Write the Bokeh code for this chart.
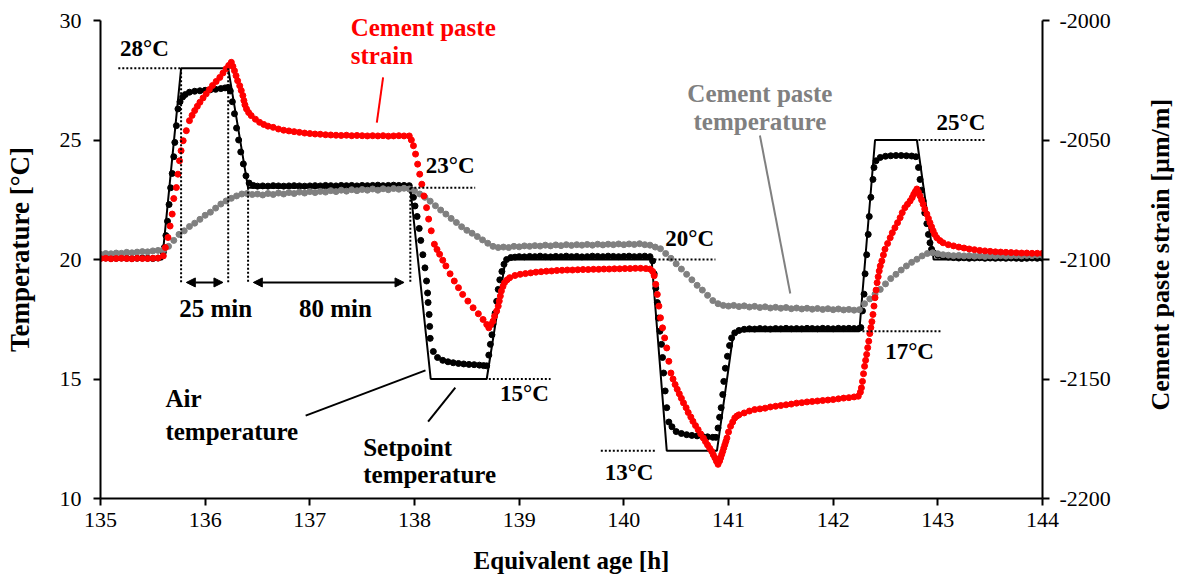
import math
from bokeh.plotting import figure
from bokeh.layouts import row
from bokeh.models import (Range1d, LinearAxis, FixedTicker, Label, Arrow, NormalHead,
                          PrintfTickFormatter)
from bokeh.embed import file_html
from bokeh.resources import INLINE

# ---------------- data ----------------
x_ticks = [135, 136, 137, 138, 139, 140, 141, 142, 143, 144]
temp_ticks = [10, 15, 20, 25, 30]
strain_ticks = [-2200, -2150, -2100, -2050, -2000]

# setpoint temperature [°C]
sp_time = [135.0, 135.59, 135.77, 136.22, 136.41, 137.96, 138.155, 138.69, 138.87,
           140.265, 140.41, 140.89, 141.05, 142.25, 142.40, 142.80, 142.96, 144.0]
sp_temp = [20, 20, 28, 28, 23, 23, 15, 15, 20,
           20, 12, 12, 17, 17, 25, 25, 20, 20]

# air temperature [°C]
air_time = [
    135.00, 135.05, 135.10, 135.15, 135.20, 135.25, 135.30, 135.35, 135.40, 135.45, 135.50, 135.55,
    135.60, 135.61, 135.625, 135.64, 135.655, 135.67, 135.685, 135.70, 135.71, 135.725, 135.74, 135.76, 135.785, 135.81,
    135.85, 135.90, 135.95, 136.00, 136.05, 136.10, 136.15, 136.19, 136.22,
    136.24, 136.26, 136.28, 136.30, 136.32, 136.34, 136.365, 136.39, 136.42, 136.46,
    136.50, 136.55, 136.60, 136.65, 136.70, 136.75, 136.80, 136.85, 136.90, 136.95,
    137.00, 137.05, 137.10, 137.15, 137.20, 137.25, 137.30, 137.35, 137.40, 137.45,
    137.50, 137.55, 137.60, 137.65, 137.70, 137.75, 137.80, 137.85, 137.90, 137.95,
    137.97, 137.99, 138.005, 138.025, 138.045, 138.06, 138.08, 138.10, 138.115, 138.125, 138.13, 138.14, 138.145, 138.15,
    138.18, 138.22, 138.27, 138.32, 138.37, 138.42, 138.47, 138.52, 138.57, 138.62, 138.66, 138.69,
    138.71, 138.725, 138.74, 138.75, 138.77, 138.785, 138.80, 138.815, 138.835, 138.855, 138.88, 138.92, 138.96,
    139.00, 139.05, 139.10, 139.15, 139.20, 139.25, 139.30, 139.35, 139.40, 139.45,
    139.50, 139.55, 139.60, 139.65, 139.70, 139.75, 139.80, 139.85, 139.90, 139.95,
    140.00, 140.05, 140.10, 140.15, 140.20, 140.25,
    140.275, 140.29, 140.305, 140.32, 140.33, 140.345, 140.36, 140.37, 140.38, 140.395, 140.41, 140.43,
    140.46, 140.50, 140.55, 140.60, 140.65, 140.70, 140.75, 140.80, 140.85, 140.88,
    140.90, 140.915, 140.93, 140.945, 140.955, 140.97, 140.99, 141.01, 141.03, 141.06, 141.10,
    141.15, 141.20, 141.25, 141.30, 141.35, 141.40, 141.45, 141.50, 141.55, 141.60,
    141.65, 141.70, 141.75, 141.80, 141.85, 141.90, 141.95, 142.00, 142.05, 142.10,
    142.15, 142.20, 142.25,
    142.265, 142.28, 142.295, 142.305, 142.32, 142.335, 142.345, 142.36, 142.38, 142.39, 142.41,
    142.45, 142.50, 142.55, 142.60, 142.65, 142.70, 142.75, 142.79,
    142.815, 142.83, 142.845, 142.86, 142.875, 142.895, 142.91, 142.925, 142.94, 142.96, 143.00, 143.05, 143.10,
    143.15, 143.20, 143.25, 143.30, 143.35, 143.40, 143.45, 143.50, 143.55, 143.60,
    143.65, 143.70, 143.75, 143.80, 143.85, 143.90, 143.95, 144.00,
]
air_temp = [
    20.05, 20.06, 20.04, 20.05, 20.06, 20.05, 20.04, 20.05, 20.06, 20.05, 20.04, 20.06,
    20.3, 20.5, 21.0, 21.6, 22.3, 23.0, 23.6, 24.3, 24.9, 25.6, 26.3, 26.6, 26.8, 26.9,
    27.0, 27.04, 27.06, 27.08, 27.1, 27.12, 27.15, 27.18, 27.2,
    27.05, 26.6, 26.1, 25.5, 25.0, 24.5, 24.0, 23.5, 23.2, 23.1,
    23.07, 23.08, 23.07, 23.09, 23.08, 23.07, 23.08, 23.09, 23.08, 23.07,
    23.08, 23.09, 23.08, 23.10, 23.09, 23.08, 23.10, 23.09, 23.10, 23.08,
    23.10, 23.09, 23.10, 23.11, 23.09, 23.10, 23.11, 23.10, 23.10, 23.09,
    22.9, 22.6, 22.24, 21.8, 21.3, 20.8, 20.2, 19.65, 19.1, 18.6, 18.2, 17.7, 17.2, 16.7,
    16.15, 15.9, 15.78, 15.72, 15.68, 15.65, 15.63, 15.61, 15.6, 15.58, 15.56, 15.55,
    16.0, 16.45, 16.85, 17.3, 17.75, 18.25, 18.75, 19.15, 19.5, 19.8, 20.0, 20.08, 20.1,
    20.12, 20.11, 20.13, 20.12, 20.14, 20.12, 20.11, 20.13, 20.12, 20.14,
    20.12, 20.13, 20.11, 20.12, 20.14, 20.13, 20.12, 20.14, 20.13, 20.12,
    20.13, 20.14, 20.12, 20.13, 20.14, 20.12,
    19.94, 19.4, 18.8, 18.2, 17.55, 17.0, 16.45, 15.9, 15.25, 14.5, 13.8, 13.2,
    13.0, 12.8, 12.72, 12.67, 12.64, 12.62, 12.6, 12.58, 12.56, 12.56,
    12.95, 13.4, 13.8, 14.35, 14.9, 15.45, 15.95, 16.4, 16.72, 16.93, 17.03,
    17.08, 17.10, 17.09, 17.11, 17.10, 17.09, 17.11, 17.10, 17.12, 17.10,
    17.11, 17.10, 17.12, 17.11, 17.10, 17.12, 17.11, 17.10, 17.12, 17.11,
    17.12, 17.11, 17.12,
    17.15, 17.85, 18.55, 19.4, 20.2, 21.05, 21.8, 22.6, 23.35, 23.85, 24.13,
    24.27, 24.32, 24.34, 24.35, 24.35, 24.34, 24.33, 24.3,
    23.85, 23.35, 22.9, 22.45, 21.95, 21.5, 21.05, 20.7, 20.43, 20.28, 20.18, 20.13, 20.1,
    20.08, 20.06, 20.07, 20.05, 20.06, 20.07, 20.05, 20.06, 20.05, 20.06,
    20.05, 20.06, 20.05, 20.04, 20.05, 20.06, 20.05, 20.05,
]

# cement paste temperature [°C]
paste_time = [
    135.00, 135.05, 135.10, 135.15, 135.20, 135.25, 135.30, 135.35, 135.40, 135.45,
    135.50, 135.55, 135.60, 135.65, 135.70, 135.75, 135.80, 135.85, 135.90, 135.95,
    136.00, 136.05, 136.10, 136.15, 136.20, 136.25, 136.30, 136.35, 136.40, 136.45,
    136.50, 136.55, 136.60, 136.65, 136.70, 136.75, 136.80, 136.85, 136.90, 136.95,
    137.00, 137.05, 137.10, 137.15, 137.20, 137.25, 137.30, 137.35, 137.40, 137.45,
    137.50, 137.55, 137.60, 137.65, 137.70, 137.75, 137.80, 137.85, 137.90, 137.95,
    138.00, 138.05, 138.10, 138.15, 138.20, 138.25, 138.30, 138.35, 138.40, 138.45,
    138.50, 138.55, 138.60, 138.65, 138.70, 138.75, 138.80, 138.85, 138.90, 138.95,
    139.00, 139.05, 139.10, 139.15, 139.20, 139.25, 139.30, 139.35, 139.40, 139.45,
    139.50, 139.55, 139.60, 139.65, 139.70, 139.75, 139.80, 139.85, 139.90, 139.95,
    140.00, 140.05, 140.10, 140.15, 140.20, 140.25, 140.30, 140.35, 140.40, 140.45,
    140.50, 140.55, 140.60, 140.65, 140.70, 140.75, 140.80, 140.85, 140.90, 140.95,
    141.00, 141.05, 141.10, 141.15, 141.20, 141.25, 141.30, 141.35, 141.40, 141.45,
    141.50, 141.55, 141.60, 141.65, 141.70, 141.75, 141.80, 141.85, 141.90, 141.95,
    142.00, 142.05, 142.10, 142.15, 142.20, 142.25, 142.30, 142.35, 142.40, 142.45,
    142.50, 142.55, 142.60, 142.65, 142.70, 142.75, 142.80, 142.85, 142.90, 142.95,
    143.00, 143.05, 143.10, 143.15, 143.20, 143.25, 143.30, 143.35, 143.40, 143.45,
    143.50, 143.55, 143.60, 143.65, 143.70, 143.75, 143.80, 143.85, 143.90, 143.95,
    144.00,
]
paste_temp = [
    20.22, 20.25, 20.24, 20.27, 20.26, 20.30, 20.28, 20.31, 20.33, 20.32,
    20.36, 20.38, 20.40, 20.55, 20.80, 21.05, 21.20, 21.38, 21.52, 21.68,
    21.85, 21.98, 22.15, 22.32, 22.45, 22.56, 22.66, 22.74, 22.76, 22.72,
    22.74, 22.70, 22.76, 22.72, 22.78, 22.74, 22.80, 22.76, 22.82, 22.78,
    22.84, 22.80, 22.85, 22.82, 22.88, 22.84, 22.90, 22.86, 22.92, 22.88,
    22.93, 22.90, 22.95, 22.90, 22.96, 22.92, 22.97, 22.94, 22.98, 22.95,
    22.88, 22.74, 22.60, 22.44, 22.25, 22.07, 21.90, 21.72, 21.55, 21.37,
    21.22, 21.10, 20.96, 20.82, 20.68, 20.55, 20.50, 20.52, 20.50, 20.55,
    20.53, 20.57, 20.55, 20.58, 20.56, 20.60, 20.57, 20.61, 20.58, 20.62,
    20.59, 20.62, 20.60, 20.63, 20.60, 20.64, 20.61, 20.64, 20.62, 20.65,
    20.62, 20.65, 20.63, 20.66, 20.62, 20.60, 20.52, 20.45, 20.25, 20.05,
    19.82, 19.60, 19.38, 19.15, 18.92, 18.72, 18.50, 18.28, 18.15, 18.08,
    18.05, 18.08, 18.03, 18.06, 18.01, 18.04, 17.99, 18.02, 17.97, 18.00,
    17.96, 17.99, 17.94, 17.97, 17.93, 17.96, 17.92, 17.95, 17.91, 17.94,
    17.90, 17.93, 17.89, 17.91, 17.88, 17.90, 18.15, 18.35, 18.55, 18.75,
    18.98, 19.20, 19.38, 19.56, 19.73, 19.88, 20.01, 20.15, 20.25, 20.28,
    20.24, 20.20, 20.18, 20.16, 20.17, 20.15, 20.16, 20.14, 20.15, 20.13,
    20.15, 20.14, 20.16, 20.14, 20.15, 20.16, 20.15, 20.17, 20.16, 20.18,
    20.17,
]

# cement paste strain [µm/m]
strain_time = [
    135.00, 135.05, 135.10, 135.15, 135.20, 135.25, 135.30, 135.35, 135.40, 135.45, 135.50, 135.55,
    135.60, 135.62, 135.645, 135.665, 135.685, 135.70, 135.725, 135.74, 135.755, 135.77,
    135.79, 135.82, 135.85, 135.875, 135.90, 135.925, 135.95, 135.98, 136.01, 136.04,
    136.07, 136.105, 136.14, 136.17, 136.20, 136.225, 136.25, 136.265, 136.28, 136.295,
    136.31, 136.33, 136.345, 136.36, 136.37, 136.38, 136.395, 136.415, 136.44, 136.48,
    136.52, 136.56, 136.60, 136.65, 136.70, 136.75, 136.80, 136.85, 136.90, 136.95,
    137.00, 137.05, 137.10, 137.15, 137.20, 137.25, 137.30, 137.35, 137.40, 137.45,
    137.50, 137.55, 137.60, 137.65, 137.70, 137.75, 137.80, 137.85, 137.90, 137.95,
    137.97, 137.99, 138.01, 138.03, 138.05, 138.07, 138.09, 138.115, 138.135, 138.16,
    138.19, 138.215, 138.24, 138.27, 138.30, 138.34, 138.38, 138.42, 138.46, 138.51,
    138.56, 138.61, 138.655, 138.69, 138.71, 138.73, 138.75, 138.765, 138.785, 138.80,
    138.81, 138.82, 138.83, 138.845, 138.86, 138.885, 138.91, 138.96, 139.01, 139.06,
    139.11, 139.16, 139.21, 139.26, 139.31, 139.36, 139.41, 139.46, 139.51, 139.56,
    139.61, 139.66, 139.71, 139.76, 139.81, 139.86, 139.91, 139.96, 140.01, 140.06,
    140.11, 140.16, 140.21, 140.25, 140.275, 140.29, 140.305, 140.32, 140.335, 140.35,
    140.37, 140.39, 140.41, 140.43, 140.45, 140.47, 140.49, 140.51, 140.53, 140.55,
    140.57, 140.595, 140.615, 140.64, 140.66, 140.685, 140.71, 140.735, 140.76, 140.78,
    140.80, 140.82, 140.84, 140.855, 140.87, 140.885, 140.90, 140.915, 140.925, 140.935,
    140.945, 140.955, 140.965, 140.975, 140.985, 141.00, 141.02, 141.04, 141.06, 141.08,
    141.10, 141.15, 141.20, 141.25, 141.30, 141.35, 141.40, 141.45, 141.50, 141.55,
    141.60, 141.65, 141.70, 141.75, 141.80, 141.85, 141.90, 141.95, 142.00, 142.05,
    142.10, 142.15, 142.20, 142.24, 142.26, 142.27, 142.28, 142.29, 142.30, 142.31,
    142.32, 142.33, 142.34, 142.35, 142.36, 142.37, 142.38, 142.39, 142.40, 142.41,
    142.42, 142.43, 142.44, 142.45, 142.465, 142.48, 142.495, 142.52, 142.545, 142.565,
    142.59, 142.615, 142.64, 142.66, 142.685, 142.71, 142.735, 142.755, 142.77, 142.785,
    142.80, 142.815, 142.83, 142.845, 142.86, 142.875, 142.895, 142.91, 142.925, 142.94,
    142.955, 142.97, 142.99, 143.02, 143.05, 143.10, 143.15, 143.20, 143.25, 143.30,
    143.35, 143.40, 143.45, 143.50, 143.55, 143.60, 143.65, 143.70, 143.75, 143.80,
    143.85, 143.90, 143.95, 144.00,
]
strain_val = [
    -2099.6, -2099.5, -2099.7, -2099.6, -2099.5, -2099.6, -2099.7, -2099.5, -2099.6, -2099.6, -2099.5, -2099.4,
    -2098.5, -2095.0, -2090.8, -2086.0, -2081.0, -2074.5, -2069.9, -2064.3, -2058.7, -2054.5,
    -2050.3, -2046.1, -2041.9, -2039.7, -2037.7, -2035.9, -2034.2, -2032.4, -2030.7, -2028.9,
    -2027.2, -2025.5, -2023.8, -2022.0, -2020.2, -2018.8, -2017.5, -2019.2, -2021.0, -2023.1,
    -2025.2, -2027.3, -2029.3, -2031.4, -2033.5, -2035.3, -2037.0, -2038.5, -2039.8, -2041.3,
    -2042.6, -2043.5, -2044.2, -2044.7, -2045.4, -2045.9, -2046.2, -2046.5, -2046.8, -2047.1,
    -2047.3, -2047.5, -2047.6, -2047.8, -2047.9, -2048.0, -2048.1, -2048.0, -2048.2, -2048.1,
    -2048.2, -2048.3, -2048.2, -2048.3, -2048.2, -2048.4, -2048.3, -2048.2, -2048.3, -2048.3,
    -2050.0, -2052.4, -2055.9, -2060.1, -2064.3, -2068.5, -2073.4, -2078.3, -2083.1, -2088.0,
    -2093.6, -2095.8, -2097.8, -2100.3, -2102.7, -2106.0, -2109.0, -2111.8, -2114.6, -2117.4,
    -2120.2, -2122.7, -2125.1, -2127.2, -2128.6, -2127.2, -2125.8, -2123.7, -2121.6, -2119.5,
    -2117.4, -2115.3, -2113.2, -2111.3, -2109.7, -2108.5, -2107.6, -2106.7, -2106.2, -2105.9,
    -2105.6, -2105.3, -2105.1, -2104.9, -2104.8, -2104.6, -2104.5, -2104.4, -2104.4, -2104.3,
    -2104.2, -2104.2, -2104.1, -2104.1, -2104.0, -2104.0, -2103.9, -2103.9, -2103.8, -2103.8,
    -2103.7, -2103.7, -2103.8, -2104.0, -2105.0, -2106.8, -2110.4, -2114.6, -2119.5, -2124.4,
    -2128.6, -2132.8, -2137.0, -2142.6, -2147.5, -2150.0, -2152.3, -2154.3, -2156.2, -2158.1,
    -2160.0, -2162.0, -2164.0, -2165.9, -2167.7, -2169.5, -2171.2, -2173.0, -2174.7, -2176.2,
    -2177.6, -2179.0, -2180.3, -2181.7, -2183.0, -2184.4, -2185.7, -2184.3, -2183.0, -2181.6,
    -2180.3, -2178.9, -2177.5, -2176.1, -2174.7, -2172.2, -2169.8, -2168.0, -2166.3, -2165.5,
    -2165.0, -2164.2, -2163.4, -2162.8, -2162.5, -2162.2, -2161.7, -2161.4, -2161.1, -2160.8,
    -2160.5, -2160.1, -2159.9, -2159.6, -2159.4, -2159.2, -2159.0, -2158.8, -2158.6, -2158.3,
    -2158.0, -2157.8, -2157.5, -2157.2, -2155.5, -2153.7, -2151.0, -2147.8, -2144.7, -2142.2,
    -2139.7, -2136.9, -2134.2, -2131.0, -2128.5, -2126.0, -2123.0, -2119.5, -2116.0, -2112.8,
    -2109.7, -2107.2, -2104.8, -2102.7, -2100.6, -2098.1, -2095.7, -2093.3, -2090.9, -2088.8,
    -2086.7, -2084.6, -2082.5, -2080.4, -2078.3, -2076.9, -2075.5, -2074.1, -2072.7, -2071.6,
    -2070.5, -2071.9, -2073.4, -2075.1, -2076.9, -2078.9, -2081.0, -2082.8, -2084.6, -2086.3,
    -2088.0, -2089.5, -2090.9, -2092.1, -2093.0, -2093.8, -2094.3, -2094.8, -2095.2, -2095.6,
    -2095.9, -2096.2, -2096.4, -2096.6, -2096.8, -2096.9, -2097.0, -2097.1, -2097.2, -2097.3,
    -2097.3, -2097.4, -2097.4, -2097.4,
]

for a, b, n in [(air_time, air_temp, "air"), (paste_time, paste_temp, "paste"),
                (strain_time, strain_val, "strain")]:
    if len(a) != len(b):
        raise ValueError(f"{n}: {len(a)} vs {len(b)}")

# ---------------- figure ----------------
SERIF = "Liberation Serif"
W, H = 1117, 584
FRAME_L, FRAME_R, FRAME_B = 100, 1042, 498
PX_PER_DEG = (498 - 20) / 20.0          # 30 °C sits 20 px below the top edge
T_TOP = 10 + FRAME_B / PX_PER_DEG       # frame reaches the top so that labels are not clipped
S_TOP = -2100 + (T_TOP - 20) * 10       # strain axis shares the same scale

p = figure(width=W, height=H,
           x_range=Range1d(135, 144), y_range=Range1d(10, T_TOP),
           output_backend="svg", toolbar_location=None,
           min_border_left=FRAME_L, min_border_right=W - FRAME_R,
           min_border_top=0, min_border_bottom=H - FRAME_B,
           x_axis_label="Equivalent age [h]", y_axis_label="Temperature [°C]")
p.extra_y_ranges = {"strain": Range1d(-2200, S_TOP)}
p.xaxis.ticker = FixedTicker(ticks=x_ticks)
p.yaxis.ticker = FixedTicker(ticks=temp_ticks)
p.yaxis.bounds = (10, 30)
ax_r = LinearAxis(y_range_name="strain", ticker=FixedTicker(ticks=strain_ticks),
                  formatter=PrintfTickFormatter(format="%d"), bounds=(-2200, -2000))
p.add_layout(ax_r, "right")

p.grid.visible = False
p.outline_line_color = None
p.background_fill_color = "white"
p.border_fill_color = "white"

for ax in p.axis:
    ax.axis_line_width = 2
    ax.axis_line_color = "black"
    ax.major_tick_line_width = 2
    ax.major_tick_line_color = "black"
    ax.major_tick_out = 7
    ax.major_tick_in = 0
    ax.minor_tick_out = 0
    ax.minor_tick_in = 0
    ax.major_label_text_font = SERIF
    ax.major_label_text_font_size = "22px"
    ax.major_label_text_color = "black"
    ax.axis_label_text_font = SERIF
    ax.axis_label_text_font_style = "bold"
    ax.axis_label_text_color = "black"

p.xaxis.axis_label_text_font_size = "25px"
p.xaxis.major_label_standoff = 7
p.xaxis.axis_label_standoff = 17
p.yaxis[0].axis_label_text_font_size = "27px"
p.yaxis[0].major_label_standoff = 12
p.yaxis[0].axis_label_standoff = 22
ax_r.major_label_standoff = 10

# series
p.line(sp_time, sp_temp, line_color="black", line_width=2)
p.scatter(air_time, air_temp, size=6, color="black")
p.scatter(paste_time, paste_temp, size=6, color="#808080")
p.scatter(strain_time, strain_val, size=6, color="#ff0000", y_range_name="strain")

# dotted reference lines for setpoint levels
p.segment(x0=[135.17, 137.96, 142.815, 140.255, 142.28, 138.71, 139.78],
          x1=[135.765, 138.58, 143.455, 140.875, 143.025, 139.30, 140.30],
          y0=[28, 23, 25, 20, 17, 15, 12], y1=[28, 23, 25, 20, 17, 15, 12],
          line_color="black", line_width=2, line_dash="2 2")
# dotted vertical marks for hold durations
p.segment(x0=[135.77, 136.22, 136.41, 137.96], x1=[135.77, 136.22, 136.41, 137.96],
          y0=[28, 28, 23, 23], y1=[19.0, 19.0, 19.0, 19.0],
          line_color="black", line_width=2, line_dash="2 2")

# leader lines
p.segment(x0=[136.96, 138.13], y0=[13.47, 13.22], x1=[138.105, 138.39], y1=[15.36, 14.64],
          line_color="black", line_width=2)
p.segment(x0=[137.70], y0=[27.62], x1=[137.64], y1=[25.73], line_color="#ff0000", line_width=2)
p.segment(x0=[141.30], y0=[25.19], x1=[141.59], y1=[18.58], line_color="#808080", line_width=2)

# double-headed arrows
for xs, xe in [(135.82, 136.17), (136.46, 137.90)]:
    p.add_layout(Arrow(start=NormalHead(size=9, fill_color="black", line_color="black"),
                       end=NormalHead(size=9, fill_color="black", line_color="black"),
                       x_start=xs, y_start=19.04, x_end=xe, y_end=19.04,
                       line_color="black", line_width=2))


def lab(fig, x, y, text, color="black", align="center", bold=True, size="23px", angle=0.0):
    fig.add_layout(Label(x=x, y=y, text=text, text_color=color, text_align=align,
                         text_baseline="middle", text_font=SERIF, text_font_size=size,
                         text_font_style="bold" if bold else "normal", angle=angle))


WORD = "25px"
lab(p, 135.42, 28.83, "28°C")
lab(p, 138.34, 23.93, "23°C")
lab(p, 143.22, 25.73, "25°C")
lab(p, 140.63, 20.88, "20°C")
lab(p, 142.73, 16.15, "17°C")
lab(p, 139.05, 14.39, "15°C")
lab(p, 140.05, 11.09, "13°C")
lab(p, 136.10, 17.95, "25 min", size=WORD)
lab(p, 137.245, 17.95, "80 min", size=WORD)
lab(p, 137.39, 29.70, "Cement paste", color="#ff0000", align="left", size=WORD)
lab(p, 137.39, 28.54, "strain", color="#ff0000", align="left", size=WORD)
lab(p, 141.30, 26.95, "Cement paste", color="#808080", size=WORD)
lab(p, 141.30, 25.77, "temperature", color="#808080", size=WORD)
lab(p, 135.62, 14.18, "Air", align="left", size=WORD)
lab(p, 135.62, 12.80, "temperature", align="left", size=WORD)
lab(p, 137.51, 12.13, "Setpoint", align="left", size=WORD)
lab(p, 137.51, 11.00, "temperature", align="left", size=WORD)

# narrow side panel carrying the right-axis title (reads bottom-to-top)
W2 = 1179 - W
p2 = figure(width=W2, height=H, x_range=Range1d(0, 1), y_range=Range1d(10, T_TOP),
            output_backend="svg", toolbar_location=None,
            min_border_left=0, min_border_right=0,
            min_border_top=0, min_border_bottom=H - FRAME_B)
p2.axis.visible = False
p2.grid.visible = False
p2.outline_line_color = None
p2.background_fill_color = "white"
p2.border_fill_color = "white"
lab(p2, (1160 - W) / W2, 20.2, "Cement paste strain [µm/m]", size="26px", angle=math.pi / 2)

layout = row(p, p2, spacing=0)
open("out.html", "w").write(file_html(layout, INLINE))
